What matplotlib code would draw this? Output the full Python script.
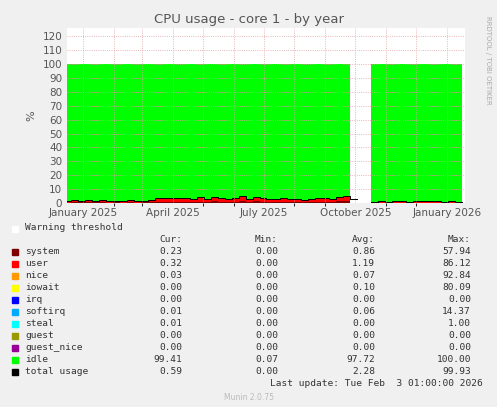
import matplotlib
matplotlib.use("Agg")
import matplotlib.pyplot as plt
import matplotlib.dates as mdates
import numpy as np
import pandas as pd

weeks = pd.date_range("2024-12-16", periods=58, freq="7D")
user = [1.0,1.4,1.2,1.5,1.1,1.4,1.0,1.2,1.0,1.4,0.8,1.1,1.4,
        2.5,2.7,2.3,2.8,2.5,1.8,3.0,1.8,3.2,2.7,2.0,2.3,3.4,1.8,
        3.2,2.5,2.1,2.0,2.3,2.1,1.8,1.7,2.0,2.5,2.3,2.1,3.2,3.4,2.1,
        np.nan,np.nan,
        0.6,0.8,0.6,0.7,0.9,0.6,0.8,0.9,0.7,0.8,0.6,0.7,0.6,0.6]
user = np.array(user)
system = user * 0.35
gap = np.isnan(user)
other = np.where(gap, np.nan, 0.15)
base = system + user + other
idle = np.where(gap, np.nan, 100.0 - base)

legend_rows = [
    ("system", "#7f0000", "0.23", "0.00", "0.86", "57.94"),
    ("user", "#ff0000", "0.32", "0.00", "1.19", "86.12"),
    ("nice", "#ff9900", "0.03", "0.00", "0.07", "92.84"),
    ("iowait", "#ffff00", "0.00", "0.00", "0.10", "80.09"),
    ("irq", "#0000ff", "0.00", "0.00", "0.00", "0.00"),
    ("softirq", "#00aaff", "0.01", "0.00", "0.06", "14.37"),
    ("steal", "#00ffff", "0.01", "0.00", "0.00", "1.00"),
    ("guest", "#999900", "0.00", "0.00", "0.00", "0.00"),
    ("guest_nice", "#990099", "0.00", "0.00", "0.00", "0.00"),
    ("idle", "#00ff00", "99.41", "0.07", "97.72", "100.00"),
    ("total usage", "#000000", "0.59", "0.00", "2.28", "99.93"),
]

fig = plt.figure(figsize=(4.97, 4.07), dpi=100, facecolor="#f0f0f0")
ax = fig.add_axes([67/497, 1-203/407, (465-67)/497, (203-28)/407])
ax.set_facecolor("white")
# shift timestamps so the gap lands on Oct 3 - Oct 16
t = weeks - pd.Timedelta(days=3)
s1 = system
s2 = system + user
ax.fill_between(t, 0, s1, step="post", color="#7f0000", lw=0)
ax.fill_between(t, s1, s2, step="post", color="#ff0000", lw=0)
ax.fill_between(t, s2, base, step="post", color="#ff9900", lw=0)
ax.fill_between(t, base, base + idle, step="post", color="#00ff00", lw=0)
ax.step(t, base, where="post", color="black", lw=0.7)
ax.set_xlim(pd.Timestamp("2024-12-16"), pd.Timestamp("2026-01-19"))
ax.set_ylim(0, 126)
ax.set_yticks(range(0, 121, 10))
ax.xaxis.set_major_locator(mdates.MonthLocator(bymonth=[1, 4, 7, 10]))
ax.xaxis.set_major_formatter(mdates.DateFormatter("%B %Y"))
ax.xaxis.set_minor_locator(mdates.MonthLocator())
ax.tick_params(labelsize=7.5, colors="#555555", length=0)
ax.grid(True, which="both", color="#e0a0a0", ls=":", lw=0.6)
ax.set_axisbelow(False)
for s in ax.spines.values():
    s.set_visible(False)
ax.set_ylabel("%", fontsize=8, color="#555555")
fig.text(0.5, 1-19/407, "CPU usage - core 1 - by year", ha="center", va="center", fontsize=9.5, color="#555555")
fig.text(488/497, 1-60/407, "RRDTOOL / TOBI OETIKER", rotation=270, ha="center", va="center", fontsize=5, color="#aaaaaa")

mono = "DejaVu Sans Mono"
fs = 6.8
fig.patches.append(plt.Rectangle((12/497, 1-232/407), 6/497, 6/407, transform=fig.transFigure, color="white"))
fig.text(25/497, 1-228/407, "Warning threshold", fontsize=fs, family=mono, color="#333333", va="center")
fig.text(182/497, 1-240/407, "Cur:", fontsize=fs, family=mono, color="#333333", va="center", ha="right")
fig.text(278/497, 1-240/407, "Min:", fontsize=fs, family=mono, color="#333333", va="center", ha="right")
fig.text(375/497, 1-240/407, "Avg:", fontsize=fs, family=mono, color="#333333", va="center", ha="right")
fig.text(471/497, 1-240/407, "Max:", fontsize=fs, family=mono, color="#333333", va="center", ha="right")
for i, (name, col, cur, mn, avg, mx) in enumerate(legend_rows):
    y = 252 + i * 12
    fig.patches.append(plt.Rectangle((12/497, 1-(y+3)/407), 6/497, 6/407, transform=fig.transFigure, color=col))
    fig.text(25/497, 1-y/407, name, fontsize=fs, family=mono, color="#333333", va="center")
    for xv, v in zip([182, 278, 375, 471], [cur, mn, avg, mx]):
        fig.text(xv/497, 1-y/407, v, fontsize=fs, family=mono, color="#333333", va="center", ha="right")
fig.text(483/497, 1-384/407, "Last update: Tue Feb  3 01:00:00 2026", fontsize=fs, family=mono, color="#333333", va="center", ha="right")
fig.text(0.5, 1-397/407, "Munin 2.0.75", fontsize=5.5, color="#bbbbbb", ha="center", va="center")
fig.savefig("out.png", dpi=100, facecolor=fig.get_facecolor())
